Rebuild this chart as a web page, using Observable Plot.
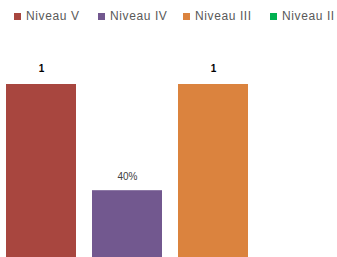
<!DOCTYPE html>
<html>
<head>
<meta charset="utf-8">
<script src="https://cdn.jsdelivr.net/npm/d3@7"></script>
<script src="https://cdn.jsdelivr.net/npm/@observablehq/plot@0.6"></script>
<style>
  html, body { margin: 0; padding: 0; background: #fff; overflow: hidden; width: 337px; height: 257px; }
  #legend { height: 32px; position: relative; font-family: "Liberation Sans", Arial, sans-serif; font-size: 12px; letter-spacing: 0.6px; color: #595959; }
  .item { position: absolute; top: 9px; display: flex; align-items: center; white-space: nowrap; }
  .sw { width: 7px; height: 7px; margin-right: 5px; }
</style>
</head>
<body>
<div id="legend"></div>
<div id="chart"></div>
<script>
const categories = ["Niveau V", "Niveau IV", "Niveau III", "Niveau II"];
const values = [1, 0.4, 1, 0];
const labels = ["1", "40%", "1", ""];
const colors = ["#A8463F", "#72588F", "#DB833E", "#00B050"];

const legendX = [14, 98, 183, 270];
const legend = document.getElementById("legend");
categories.forEach((c, i) => {
  const it = document.createElement("div");
  it.className = "item";
  it.style.left = legendX[i] + "px";
  it.innerHTML = `<span class="sw" style="background:${colors[i]}"></span><span>${c}</span>`;
  legend.appendChild(it);
});

const data = categories.map((c, i) => ({cat: c, value: values[i], label: labels[i], i}));

const chart = Plot.plot({
  width: 337,
  height: 225,
  marginLeft: 3,
  marginRight: 0,
  marginTop: 52,
  marginBottom: -4,
  x: {domain: categories, paddingInner: 0.19, paddingOuter: 0.02, axis: null},
  y: {domain: [0, 1], axis: null},
  color: {domain: categories, range: colors},
  style: {fontFamily: "Liberation Sans, Arial, sans-serif", background: "transparent", overflow: "hidden"},
  marks: [
    Plot.barY(data.filter(d => d.value > 0), {x: "cat", y: "value", fill: "cat"}),
    Plot.text(data.filter(d => d.label === "1"), {x: "cat", y: "value", text: "label", dy: -16, fontSize: 10, fontWeight: "bold", fill: "#000"}),
    Plot.text(data.filter(d => d.label !== "1" && d.label !== ""), {x: "cat", y: "value", text: "label", dy: -14, fontSize: 10, fill: "#404040"})
  ]
});
document.getElementById("chart").appendChild(chart);
</script>
</body>
</html>
